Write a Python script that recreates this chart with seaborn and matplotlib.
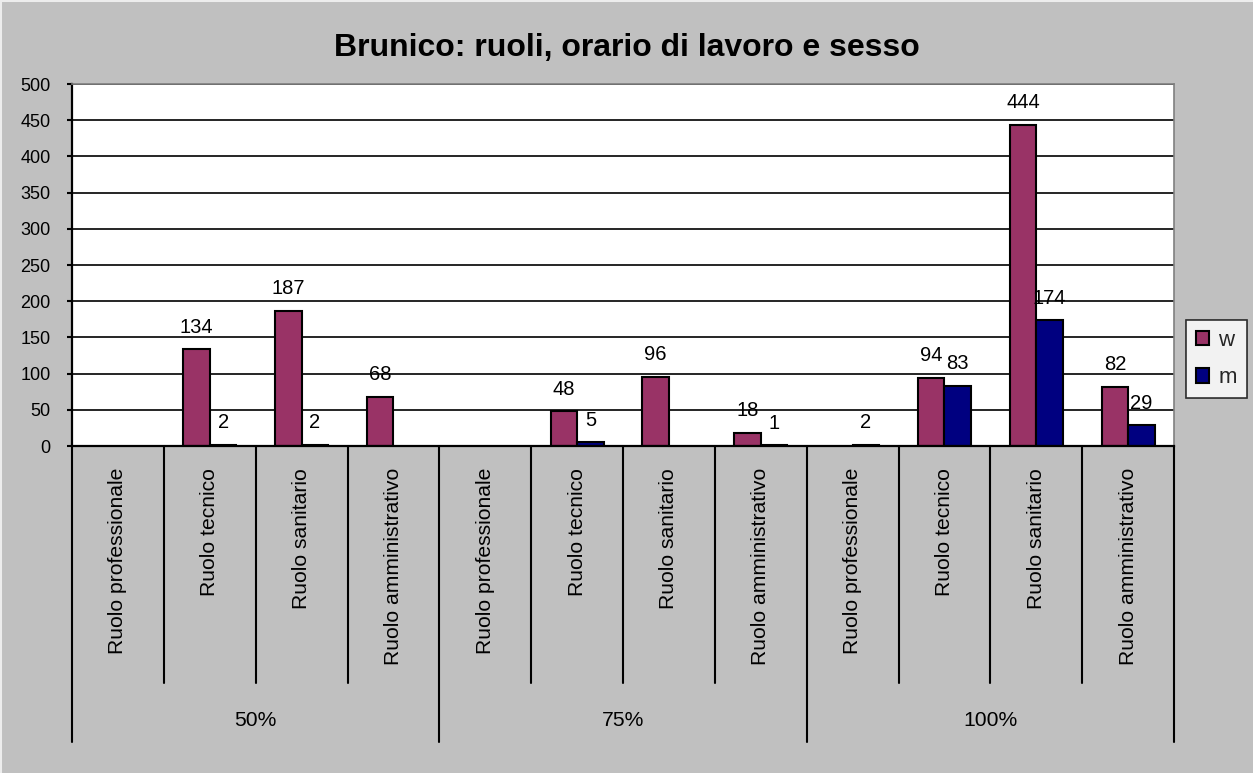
import numpy as np
import pandas as pd
import matplotlib
matplotlib.use("Agg")
import matplotlib.pyplot as plt
import seaborn as sns
from matplotlib.patches import Patch
from matplotlib.lines import Line2D
from matplotlib.transforms import blended_transform_factory

# Data: working-time groups, roles, and headcount by sex
groups = ["50%", "75%", "100%"]
roles = ["Ruolo professionale", "Ruolo tecnico", "Ruolo sanitario", "Ruolo amministrativo"]
w_values = [np.nan, 134, 187, 68, np.nan, 48, 96, 18, np.nan, 94, 444, 82]
m_values = [np.nan, 2, 2, np.nan, np.nan, 5, np.nan, 1, 2, 83, 174, 29]
series = ["w", "m"]
colors = {"w": "#993366", "m": "#000080"}
y_ticks = list(range(0, 501, 50))

slots = [f"{g}|{r}" for g in groups for r in roles]
rows = []
for s, wv, mv in zip(slots, w_values, m_values):
    rows.append({"slot": s, "sesso": "w", "n": wv})
    rows.append({"slot": s, "sesso": "m", "n": mv})
df = pd.DataFrame(rows).dropna()

sns.set_style("white")
plt.rcParams["font.family"] = ["Liberation Sans", "DejaVu Sans"]

bg = "#C0C0C0"
fig = plt.figure(figsize=(12.53, 7.73), dpi=100, facecolor=bg)
ax = fig.add_axes([0.0575, 0.423, 0.8795, 0.4683])
ax.set_facecolor("white")

sns.barplot(data=df, x="slot", y="n", hue="sesso", order=slots, hue_order=series,
            palette=colors, width=0.58, edgecolor="black", linewidth=1.5,
            saturation=1, legend=False, ax=ax, errorbar=None)

for cont in ax.containers:
    ax.bar_label(cont, fmt="%g", fontsize=14.5, padding=9, color="black")

ax.set_ylim(0, 500)
ax.set_xlim(-0.5, len(slots) - 0.5)
ax.set_yticks(y_ticks)
ax.yaxis.grid(True, color="black", linewidth=1.2)
ax.set_axisbelow(True)
ax.tick_params(axis="y", direction="out", length=3.6, width=1.5, pad=12,
               labelsize=13, colors="black", left=True)
ax.set_xticks([])
ax.set_xlabel("")
ax.set_ylabel("")
for side in ["left", "bottom"]:
    ax.spines[side].set_color("black")
    ax.spines[side].set_linewidth(1.6)
for side in ["top", "right"]:
    ax.spines[side].set_color("#808080")
    ax.spines[side].set_linewidth(1.2)

# Multi-level category axis below the plot
trans = blended_transform_factory(ax.transData, ax.transAxes)
n = len(slots)
for i in range(n + 1):
    xb = i - 0.5
    is_group = i % len(roles) == 0
    y_end = -0.818 if is_group else -0.655
    ax.plot([xb, xb], [0, y_end], transform=trans, color="black",
            linewidth=1.5, clip_on=False)
for i, s in enumerate(slots):
    role = s.split("|")[1]
    ax.text(i, -0.061, role, transform=trans, rotation=90, ha="center", va="top",
            fontsize=15.2, color="black")
for gi, g in enumerate(groups):
    xc = gi * len(roles) + (len(roles) - 1) / 2
    ax.text(xc, -0.757, g, transform=trans, ha="center", va="center",
            fontsize=15.2, color="black")

fig.text(0.5005, 0.938, "Brunico: ruoli, orario di lavoro e sesso", ha="center",
         va="center", fontsize=23, fontweight="bold", color="black")

handles = [Patch(facecolor=colors[s], edgecolor="black", linewidth=1.5, label=s)
           for s in series]
leg = fig.legend(handles=handles, loc="center left", bbox_to_anchor=(0.9465, 0.5356),
                 frameon=True, fancybox=False, fontsize=16, handlelength=0.6,
                 handleheight=0.6, handletextpad=0.4, borderpad=0.45, labelspacing=0.75,
                 borderaxespad=0)
leg.get_frame().set_edgecolor("black")
leg.get_frame().set_linewidth(1.2)
leg.get_frame().set_facecolor("white")

# Light bevel along the top and left edges of the chart area
fig.add_artist(Line2D([0.0008, 0.0008], [0, 0.9985], transform=fig.transFigure,
                      color="#EDEDED", linewidth=1.5))
fig.add_artist(Line2D([0, 1], [0.9985, 0.9985], transform=fig.transFigure,
                      color="#EDEDED", linewidth=1.5))

fig.savefig("out.png", dpi=100, facecolor=bg)
